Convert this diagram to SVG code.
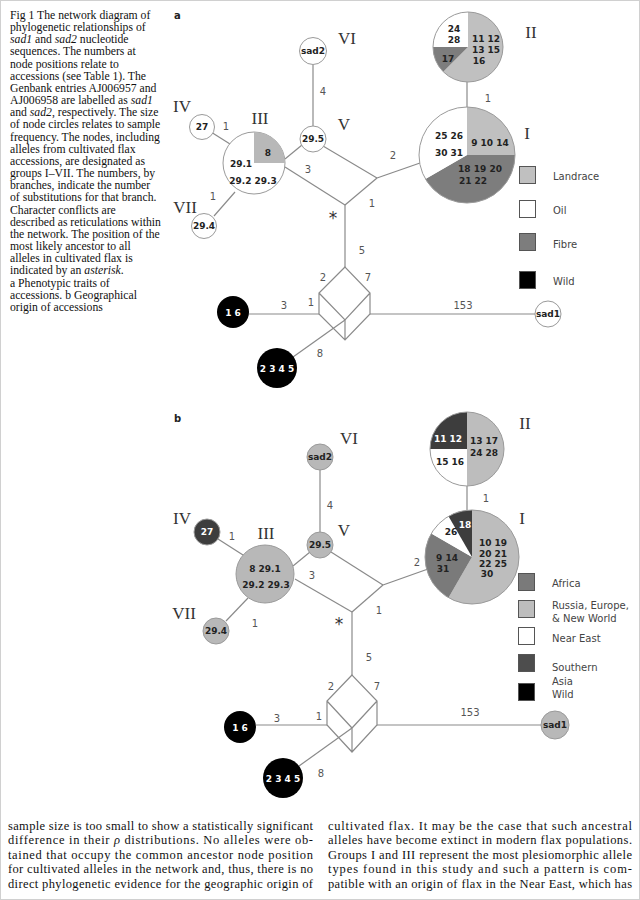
<svg xmlns="http://www.w3.org/2000/svg" width="640" height="900" viewBox="0 0 640 900">
<style>
.cap{font-family:"Liberation Serif",serif;font-size:11.7px;fill:#111}
.body{font-family:"Liberation Serif",serif;font-size:12.5px;fill:#111}
.ln{stroke:#8a8a8a;stroke-width:1.2;fill:none}
.nd{stroke:#9a9a9a;stroke-width:1}
.nt{font-family:"DejaVu Sans",sans-serif;font-weight:bold;font-size:9px;fill:#222;text-anchor:middle}
.wt{font-family:"DejaVu Sans",sans-serif;font-weight:bold;font-size:9px;fill:#fff;text-anchor:middle}
.bn{font-family:"DejaVu Sans",sans-serif;font-size:10px;fill:#555;text-anchor:middle}
.rn{font-family:"Liberation Serif",serif;font-size:17px;fill:#333;text-anchor:middle}
.lg{font-family:"DejaVu Sans",sans-serif;font-size:10px;fill:#444}
.pl{font-family:"DejaVu Sans",sans-serif;font-weight:bold;font-size:10px;fill:#222}
.sq{stroke:#555;stroke-width:1}
</style>
<rect x="0.5" y="0.5" width="639" height="899" fill="#fff" stroke="#d0d0d0"/>
<g id="caption">
<text class="cap" x="10" y="19">Fig 1  The network diagram of</text>
<text class="cap" x="10" y="31">phylogenetic relationships of</text>
<text class="cap" x="10" y="43"><tspan font-style="italic">sad1</tspan> and <tspan font-style="italic">sad2</tspan> nucleotide</text>
<text class="cap" x="10" y="55">sequences. The numbers at</text>
<text class="cap" x="10" y="68">node positions relate to</text>
<text class="cap" x="10" y="80">accessions (see Table 1). The</text>
<text class="cap" x="10" y="92">Genbank entries AJ006957 and</text>
<text class="cap" x="10" y="104">AJ006958 are labelled as <tspan font-style="italic">sad1</tspan></text>
<text class="cap" x="10" y="116">and <tspan font-style="italic">sad2</tspan>, respectively. The size</text>
<text class="cap" x="10" y="128">of node circles relates to sample</text>
<text class="cap" x="10" y="141">frequency. The nodes, including</text>
<text class="cap" x="10" y="153">alleles from cultivated flax</text>
<text class="cap" x="10" y="165">accessions, are designated as</text>
<text class="cap" x="10" y="177">groups I–VII. The numbers, by</text>
<text class="cap" x="10" y="189">branches, indicate the number</text>
<text class="cap" x="10" y="201">of substitutions for that branch.</text>
<text class="cap" x="10" y="214">Character conflicts are</text>
<text class="cap" x="10" y="226">described as reticulations within</text>
<text class="cap" x="10" y="238">the network. The position of the</text>
<text class="cap" x="10" y="250">most likely ancestor to all</text>
<text class="cap" x="10" y="262">alleles in cultivated flax is</text>
<text class="cap" x="10" y="274">indicated by an <tspan font-style="italic">asterisk</tspan>.</text>
<text class="cap" x="10" y="287">a Phenotypic traits of</text>
<text class="cap" x="10" y="299">accessions. b Geographical</text>
<text class="cap" x="10" y="311">origin of accessions</text>
</g>

<!-- PANEL A -->
<text class="pl" x="174" y="19">a</text>
<g id="connectors-a">
<line class="ln" x1="313" y1="65" x2="313" y2="126"/>
<line class="ln" x1="211" y1="132" x2="230" y2="144"/>
<line class="ln" x1="214" y1="216" x2="235" y2="192"/>
<line class="ln" x1="285" y1="159" x2="302" y2="145"/>
<line class="ln" x1="285" y1="167" x2="345" y2="205"/>
<line class="ln" x1="323" y1="146" x2="377" y2="178"/>
<line class="ln" x1="377" y1="178" x2="345" y2="205"/>
<line class="ln" x1="377" y1="178" x2="420" y2="163"/>
<line class="ln" x1="345" y1="205" x2="345" y2="267"/>
<line class="ln" x1="467" y1="82" x2="467" y2="107"/>
<path class="ln" d="M345,267 L319,293 L319,314 L345,340 L370,314 L370,293 Z M319,293 L345,320 L370,293 M345,320 L345,340"/>
<line class="ln" x1="249" y1="314" x2="319" y2="314"/>
<line class="ln" x1="370" y1="314" x2="535" y2="314"/>
<line class="ln" x1="345" y1="320" x2="293" y2="357"/>
<text class="bn" x="323" y="95">4</text>
<text class="bn" x="226" y="130">1</text>
<text class="bn" x="213" y="200">1</text>
<text class="bn" x="308" y="173">3</text>
<text class="bn" x="393" y="159">2</text>
<text class="bn" x="372" y="207">1</text>
<text class="bn" x="488" y="102">1</text>
<text class="bn" x="362" y="254">5</text>
<text class="bn" x="323" y="281">2</text>
<text class="bn" x="368" y="281">7</text>
<text class="bn" x="311" y="306">1</text>
<text class="bn" x="284" y="309">3</text>
<text class="bn" x="463" y="309">153</text>
<text class="bn" x="320" y="357">8</text>
<text x="333" y="224" font-family="DejaVu Sans,sans-serif" font-size="17" fill="#333" text-anchor="middle">*</text>
</g>
<g id="a-VI"><circle class="nd" cx="313" cy="51" r="13.5" fill="#fff"/><text class="nt" x="313" y="54" font-size="8.5">sad2</text><text class="rn" x="347" y="44">VI</text></g>
<g id="a-V"><circle class="nd" cx="313" cy="139" r="13" fill="#fff"/><text class="nt" x="313" y="142">29.5</text><text class="rn" x="344" y="130">V</text></g>
<g id="a-IV"><circle class="nd" cx="202" cy="127" r="12.5" fill="#fff"/><text class="nt" x="202" y="130">27</text><text class="rn" x="182" y="112">IV</text></g>
<g id="a-VII"><circle class="nd" cx="204" cy="226" r="12.5" fill="#fff"/><text class="nt" x="204" y="229">29.4</text><text class="rn" x="185" y="213">VII</text></g>
<g id="a-III"><circle class="nd" cx="254" cy="163" r="31" fill="#fff"/><path d="M254,163 L254,132 A31,31 0 0 1 285,163 Z" fill="#b8b8b8"/><text class="nt" x="268" y="156">8</text><text class="nt" x="241" y="167">29.1</text><text class="nt" x="253" y="184">29.2 29.3</text><text class="rn" x="260" y="124">III</text></g>
<g id="a-II"><path d="M468,47 L468,12 A35,35 0 1 1 443.25,71.75 Z" fill="#c0c0c0"/><path d="M468,47 L443.25,71.75 A35,35 0 0 1 433,47 Z" fill="#7d7d7d"/><path d="M468,47 L433,47 A35,35 0 0 1 468,12 Z" fill="#fff"/><circle class="nd" cx="468" cy="47" r="35" fill="none"/>
<text class="nt" x="454" y="32">24</text><text class="nt" x="454" y="43">28</text><text class="nt" x="486" y="42">11 12</text><text class="nt" x="486" y="53">13 15</text><text class="nt" x="479" y="64">16</text><text class="nt" x="448" y="62">17</text><text class="rn" x="531" y="38">II</text></g>
<g id="a-I"><path d="M467,155 L467,107 A48,48 0 0 1 515,155 Z" fill="#c0c0c0"/><path d="M467,155 L515,155 A48,48 0 0 1 425.43,179 Z" fill="#7d7d7d"/><path d="M467,155 L425.43,179 A48,48 0 0 1 467,107 Z" fill="#fff"/><circle class="nd" cx="467" cy="155" r="48" fill="none"/>
<text class="nt" x="449" y="139">25 26</text><text class="nt" x="449" y="156">30 31</text><text class="nt" x="490" y="146">9 10 14</text><text class="nt" x="480" y="172">18 19 20</text><text class="nt" x="473" y="184">21 22</text><text class="rn" x="527" y="139">I</text></g>
<g id="a-16"><circle cx="233" cy="312" r="16" fill="#000"/><text class="wt" x="233" y="316">1 6</text></g>
<g id="a-2345"><circle cx="277" cy="368" r="20" fill="#000"/><text class="wt" x="277" y="372">2 3 4 5</text></g>
<g id="a-sad1"><circle class="nd" cx="548" cy="314" r="13" fill="#fff"/><text class="nt" x="548" y="317" font-size="8.5">sad1</text></g>
<g id="legend-a">
<rect class="sq" x="519.5" y="166.5" width="16" height="17" fill="#c0c0c0"/><text class="lg" x="553" y="180">Landrace</text>
<rect class="sq" x="519.5" y="200.5" width="16" height="17" fill="#fff"/><text class="lg" x="553" y="214">Oil</text>
<rect class="sq" x="519.5" y="233.5" width="16" height="17" fill="#7d7d7d"/><text class="lg" x="553" y="248">Fibre</text>
<rect class="sq" x="519.5" y="271.5" width="16" height="17" fill="#000"/><text class="lg" x="553" y="285">Wild</text>
</g>

<!-- PANEL B -->
<text class="pl" x="174" y="422">b</text>
<g id="connectors-b">
<line class="ln" x1="320" y1="470" x2="320" y2="532"/>
<line class="ln" x1="218" y1="539" x2="243" y2="555"/>
<line class="ln" x1="226" y1="621" x2="248" y2="598"/>
<line class="ln" x1="293" y1="566" x2="310" y2="552"/>
<line class="ln" x1="295" y1="579" x2="352" y2="612"/>
<line class="ln" x1="331" y1="552" x2="383" y2="585"/>
<line class="ln" x1="383" y1="585" x2="352" y2="612"/>
<line class="ln" x1="383" y1="585" x2="428" y2="569"/>
<line class="ln" x1="352" y1="612" x2="352" y2="675"/>
<line class="ln" x1="467" y1="486" x2="467" y2="510"/>
<path class="ln" d="M352,675 L327,701 L327,725 L352,752 L377,725 L377,701 Z M327,701 L352,728 L377,701 M352,728 L352,752"/>
<line class="ln" x1="256" y1="725" x2="327" y2="725"/>
<line class="ln" x1="377" y1="725" x2="541" y2="725"/>
<line class="ln" x1="352" y1="728" x2="299" y2="766"/>
<text class="bn" x="330" y="509">4</text>
<text class="bn" x="232" y="540">1</text>
<text class="bn" x="255" y="627">1</text>
<text class="bn" x="312" y="579">3</text>
<text class="bn" x="417" y="566">2</text>
<text class="bn" x="379" y="614">1</text>
<text class="bn" x="486" y="502">1</text>
<text class="bn" x="369" y="661">5</text>
<text class="bn" x="331" y="690">2</text>
<text class="bn" x="377" y="690">7</text>
<text class="bn" x="319" y="720">1</text>
<text class="bn" x="277" y="722">3</text>
<text class="bn" x="470" y="716">153</text>
<text class="bn" x="321" y="777">8</text>
<text x="339" y="630" font-family="DejaVu Sans,sans-serif" font-size="17" fill="#333" text-anchor="middle">*</text>
</g>
<g id="b-VI"><circle class="nd" cx="320" cy="457" r="13" fill="#b8b8b8"/><text class="nt" x="320" y="460" font-size="8.5">sad2</text><text class="rn" x="349" y="444">VI</text></g>
<g id="b-V"><circle class="nd" cx="320" cy="545" r="13" fill="#b8b8b8"/><text class="nt" x="320" y="548">29.5</text><text class="rn" x="344" y="536">V</text></g>
<g id="b-IV"><circle class="nd" cx="207" cy="532" r="13" fill="#3d3d3d"/><text class="wt" x="207" y="535">27</text><text class="rn" x="182" y="524">IV</text></g>
<g id="b-VII"><circle class="nd" cx="216" cy="631" r="13" fill="#b8b8b8"/><text class="nt" x="216" y="634">29.4</text><text class="rn" x="184" y="619">VII</text></g>
<g id="b-III"><circle class="nd" cx="265" cy="574" r="29" fill="#b8b8b8"/><text class="nt" x="265" y="572">8 29.1</text><text class="nt" x="266" y="588">29.2 29.3</text><text class="rn" x="266" y="539">III</text></g>
<g id="b-II"><path d="M467,449 L467,412 A37,37 0 0 1 467,486 Z" fill="#bdbdbd"/><path d="M467,449 L467,486 A37,37 0 0 1 430,449 Z" fill="#fff"/><path d="M467,449 L430,449 A37,37 0 0 1 467,412 Z" fill="#3d3d3d"/><circle class="nd" cx="467" cy="449" r="37" fill="none"/>
<text class="wt" x="448" y="442">11 12</text><text class="nt" x="484" y="444">13 17</text><text class="nt" x="484" y="456">24 28</text><text class="nt" x="450" y="465">15 16</text><text class="rn" x="525" y="429">II</text></g>
<g id="b-I"><path d="M472,557 L472,510 A47,47 0 1 1 448.5,597.7 Z" fill="#bdbdbd"/><path d="M472,557 L448.5,597.7 A47,47 0 0 1 431.3,533.5 Z" fill="#7a7a7a"/><path d="M472,557 L431.3,533.5 A47,47 0 0 1 448.5,516.3 Z" fill="#fff"/><path d="M472,557 L448.5,516.3 A47,47 0 0 1 472,510 Z" fill="#3d3d3d"/><circle class="nd" cx="472" cy="557" r="47" fill="none"/>
<text class="wt" x="465" y="528">18</text><text class="nt" x="451" y="535">26</text><text class="nt" x="493" y="546">10 19</text><text class="nt" x="493" y="557">20 21</text><text class="nt" x="493" y="567">22 25</text><text class="nt" x="487" y="577">30</text><text class="nt" x="447" y="561">9 14</text><text class="nt" x="443" y="572">31</text><text class="rn" x="522" y="524">I</text></g>
<g id="b-16"><circle cx="240" cy="727" r="16" fill="#000"/><text class="wt" x="240" y="731">1 6</text></g>
<g id="b-2345"><circle cx="283" cy="778" r="20" fill="#000"/><text class="wt" x="283" y="782">2 3 4 5</text></g>
<g id="b-sad1"><circle class="nd" cx="555" cy="725" r="14" fill="#b8b8b8"/><text class="nt" x="555" y="728" font-size="8.5">sad1</text></g>
<g id="legend-b">
<rect class="sq" x="518.5" y="573.5" width="16" height="17" fill="#7a7a7a"/><text class="lg" x="552" y="587">Africa</text>
<rect class="sq" x="518.5" y="600.5" width="16" height="17" fill="#bdbdbd"/><text class="lg" x="552" y="609">Russia, Europe,</text><text class="lg" x="552" y="622">&amp; New World</text>
<rect class="sq" x="518.5" y="627.5" width="16" height="17" fill="#fff"/><text class="lg" x="552" y="642">Near East</text>
<rect class="sq" x="518.5" y="654.5" width="16" height="17" fill="#4d4d4d"/><text class="lg" x="552" y="671">Southern</text><text class="lg" x="552" y="685">Asia</text>
<rect class="sq" x="518.5" y="683.5" width="16" height="17" fill="#000"/><text class="lg" x="552" y="698">Wild</text>
</g>

<g id="bodytext">
<text class="body" x="8" y="830" textLength="305" lengthAdjust="spacing">sample size is too small to show a statistically significant</text>
<text class="body" x="8" y="844" textLength="305" lengthAdjust="spacing">difference in their <tspan font-style="italic">ρ</tspan> distributions. No alleles were ob-</text>
<text class="body" x="8" y="859" textLength="305" lengthAdjust="spacing">tained that occupy the common ancestor node position</text>
<text class="body" x="8" y="873" textLength="305" lengthAdjust="spacing">for cultivated alleles in the network and, thus, there is no</text>
<text class="body" x="8" y="888" textLength="305" lengthAdjust="spacing">direct phylogenetic evidence for the geographic origin of</text>
<text class="body" x="328" y="830" textLength="304" lengthAdjust="spacing">cultivated flax. It may be the case that such ancestral</text>
<text class="body" x="328" y="844" textLength="304" lengthAdjust="spacing">alleles have become extinct in modern flax populations.</text>
<text class="body" x="328" y="859" textLength="304" lengthAdjust="spacing">Groups I and III represent the most plesiomorphic allele</text>
<text class="body" x="328" y="873" textLength="304" lengthAdjust="spacing">types found in this study and such a pattern is com-</text>
<text class="body" x="328" y="888" textLength="304" lengthAdjust="spacing">patible with an origin of flax in the Near East, which has</text>
</g>
</svg>
